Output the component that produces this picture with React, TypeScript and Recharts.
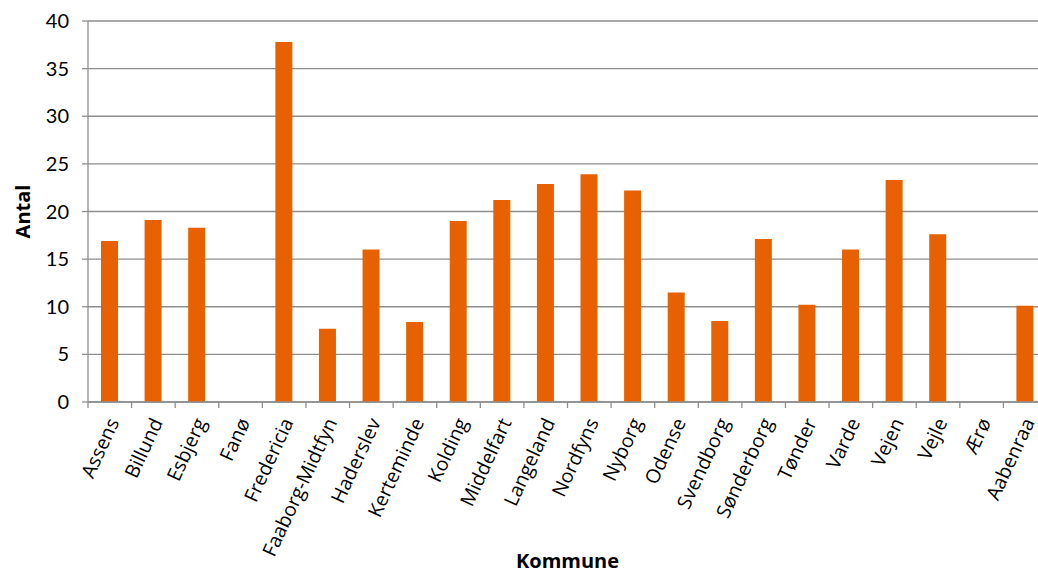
import { BarChart, Bar, XAxis, YAxis, CartesianGrid } from "recharts";

const kommuner = [
  "Assens",
  "Billund",
  "Esbjerg",
  "Fanø",
  "Fredericia",
  "Faaborg-Midtfyn",
  "Haderslev",
  "Kerteminde",
  "Kolding",
  "Middelfart",
  "Langeland",
  "Nordfyns",
  "Nyborg",
  "Odense",
  "Svendborg",
  "Sønderborg",
  "Tønder",
  "Varde",
  "Vejen",
  "Vejle",
  "Ærø",
  "Aabenraa",
];

const antal = [
  16.9, 19.1, 18.3, 0, 37.8, 7.7, 16.0, 8.4, 19.0, 21.2, 22.9, 23.9, 22.2,
  11.5, 8.5, 17.1, 10.2, 16.0, 23.3, 17.6, 0, 10.1,
];

const yTicks = [0, 5, 10, 15, 20, 25, 30, 35, 40];

const data = kommuner.map((name, i) => ({ name, antal: antal[i] }));

const WIDTH = 1060;
const HEIGHT = 571;
const MARGIN = { top: 21, right: 13, bottom: 0, left: 0 };
const Y_AXIS_WIDTH = 88;
const X_AXIS_HEIGHT = 169;

const BAR_COLOR = "#E86100";
const GRID_COLOR = "#8e8e8e";

// width of one category band, used to put tick marks between bars
const BAND = (WIDTH - MARGIN.left - MARGIN.right - Y_AXIS_WIDTH) / kommuner.length;

const CategoryTick = (props: any) => {
  const { x, y, payload } = props;
  const axisY = y - 8;
  const left = x - BAND / 2;
  const tx = x + 3;
  const ty = axisY + 17;
  return (
    <g>
      <line x1={left} y1={axisY} x2={left} y2={axisY + 6} stroke={GRID_COLOR} strokeWidth={1.3} />
      <text
        x={tx}
        y={ty}
        textAnchor="end"
        fontFamily="'Open Sans', sans-serif"
        fontSize={19.5}
        fill="#000"
        transform={`rotate(-65 ${tx} ${ty})`}
        dominantBaseline="central"
      >
        {payload.value}
      </text>
    </g>
  );
};

const YTitle = (props: any) => {
  const { viewBox } = props;
  const cx = viewBox.x + 22;
  const cy = viewBox.y + viewBox.height / 2;
  return (
    <text
      x={cx}
      y={cy}
      transform={`rotate(-90 ${cx} ${cy})`}
      textAnchor="middle"
      dominantBaseline="central"
      fontFamily="'Open Sans', sans-serif"
      fontWeight="bold"
      fontSize={20}
      fill="#000"
    >
      Antal
    </text>
  );
};

const XTitle = (props: any) => {
  const { viewBox } = props;
  return (
    <text
      x={viewBox.x + viewBox.width / 2}
      y={viewBox.y + viewBox.height - 11}
      textAnchor="middle"
      dominantBaseline="central"
      fontFamily="'Open Sans', sans-serif"
      fontWeight="bold"
      fontSize={20}
      fill="#000"
    >
      Kommune
    </text>
  );
};

export default function App() {
  return (
    <div
      style={{
        position: "fixed",
        left: 0,
        top: 0,
        width: 1038,
        height: HEIGHT,
        overflow: "hidden",
        background: "#fff",
      }}
    >
      <BarChart width={WIDTH} height={HEIGHT} data={data} margin={MARGIN} barCategoryGap={0}>
        <CartesianGrid vertical={false} stroke={GRID_COLOR} strokeWidth={1.3} />
        <XAxis
          dataKey="name"
          height={X_AXIS_HEIGHT}
          interval={0}
          tickLine={false}
          axisLine={{ stroke: GRID_COLOR, strokeWidth: 1.3 }}
          tick={<CategoryTick />}
          label={<XTitle />}
        />
        <YAxis
          width={Y_AXIS_WIDTH}
          domain={[0, 40]}
          ticks={yTicks}
          interval={0}
          tickSize={6}
          tickMargin={13}
          tickLine={{ stroke: GRID_COLOR, strokeWidth: 1.3 }}
          axisLine={{ stroke: GRID_COLOR, strokeWidth: 1.3 }}
          tick={{ fill: "#000", fontSize: 20, fontFamily: "Lato, sans-serif" }}
          label={<YTitle />}
        />
        <Bar dataKey="antal" fill={BAR_COLOR} barSize={17} isAnimationActive={false} />
      </BarChart>
    </div>
  );
}
